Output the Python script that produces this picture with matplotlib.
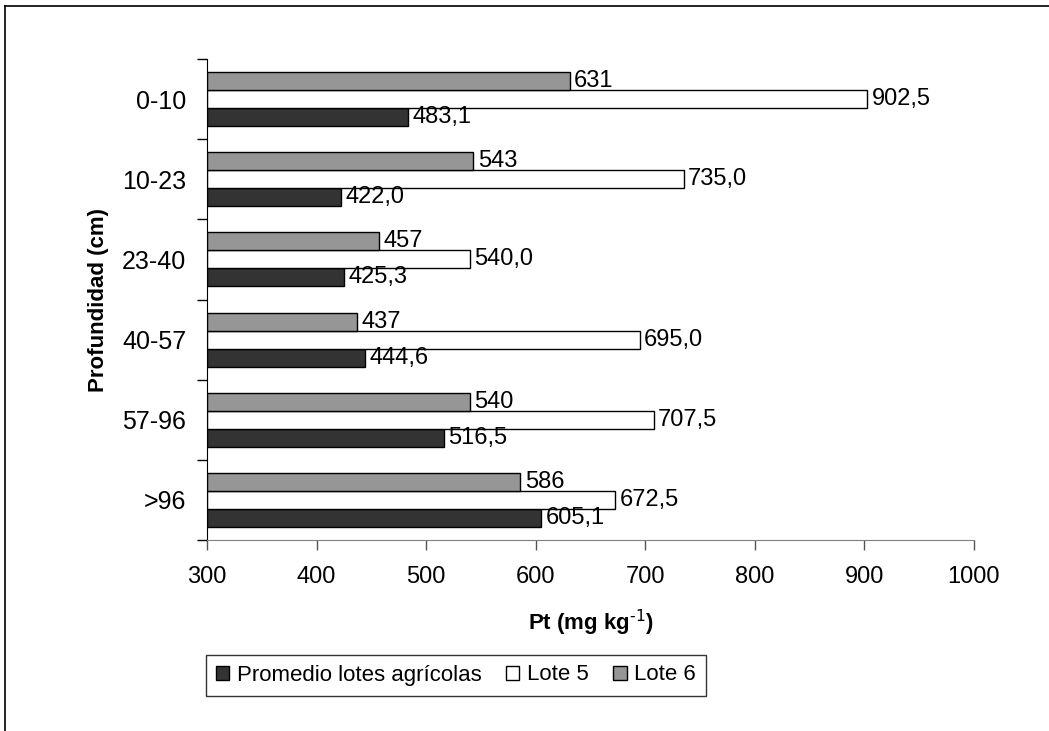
import numpy as np
import matplotlib.pyplot as plt
from matplotlib.lines import Line2D

plt.rcParams['font.family'] = ['Liberation Sans', 'DejaVu Sans']

# Fósforo total por profundidad
profundidades = ['0-10', '10-23', '23-40', '40-57', '57-96', '>96']
promedio = [483.1, 422.0, 425.3, 444.6, 516.5, 605.1]
lote5 = [902.5, 735.0, 540.0, 695.0, 707.5, 672.5]
lote6 = [631, 543, 457, 437, 540, 586]

series = [
    ('Promedio lotes agrícolas', promedio, '#333333', '{:.1f}', 0.225),
    ('Lote 5', lote5, '#ffffff', '{:.1f}', 0.0),
    ('Lote 6', lote6, '#969696', '{:.0f}', -0.225),
]

fig = plt.figure(figsize=(10.49, 7.31), dpi=100)
ax = fig.add_axes([207 / 1049, 1 - 540 / 731, 767 / 1049, 481 / 731])

y = np.arange(len(profundidades))
h = 0.225
for nombre, vals, color, fmt, off in series:
    bars = ax.barh(y + off, np.array(vals) - 300, left=300, height=h,
                   color=color, edgecolor='black', linewidth=1.0, label=nombre)
    for b, v in zip(bars, vals):
        ax.text(v + 4, b.get_y() + h / 2, fmt.format(v).replace('.', ','),
                va='center', ha='left', fontsize=17)

ax.set_xlim(300, 1000)
ax.set_ylim(len(profundidades) - 0.5, -0.5)
ax.set_xticks(np.arange(300, 1001, 100))
ax.set_yticks(y)
ax.set_yticklabels(profundidades)
ax.set_yticks(np.arange(-0.5, len(profundidades)), minor=True)
ax.tick_params(axis='y', which='major', length=0, labelsize=18, pad=15)
ax.tick_params(axis='y', which='minor', length=7, width=1, color='black')
ax.tick_params(axis='x', length=7, width=1, color='#555555', labelsize=17, pad=12)

for s in ['top', 'right']:
    ax.spines[s].set_visible(False)
ax.spines['left'].set_color('black')
ax.spines['bottom'].set_color('#808080')

ax.set_xlabel('Pt (mg kg$^{\\mathbf{\\text{-1}}}$)', fontsize=16, fontweight='bold', labelpad=14)
ax.set_ylabel('Profundidad (cm)', fontsize=16, fontweight='bold', labelpad=9)

leg = fig.legend(loc='center', bbox_to_anchor=(456 / 1049, 1 - 675 / 731),
                 ncol=3, fontsize=16, frameon=True, fancybox=False,
                 edgecolor='black', handlelength=0.6, handleheight=0.6,
                 handletextpad=0.35, columnspacing=1.1, borderpad=0.45)
leg.get_frame().set_linewidth(1.0)

# marco exterior (sólo arriba e izquierda)
fig.add_artist(Line2D([5 / 1049, 1], [1 - 6 / 731, 1 - 6 / 731], color='black', lw=1.2))
fig.add_artist(Line2D([5 / 1049, 5 / 1049], [0, 1 - 6 / 731], color='black', lw=1.2))

fig.savefig('out.png', dpi=100)
